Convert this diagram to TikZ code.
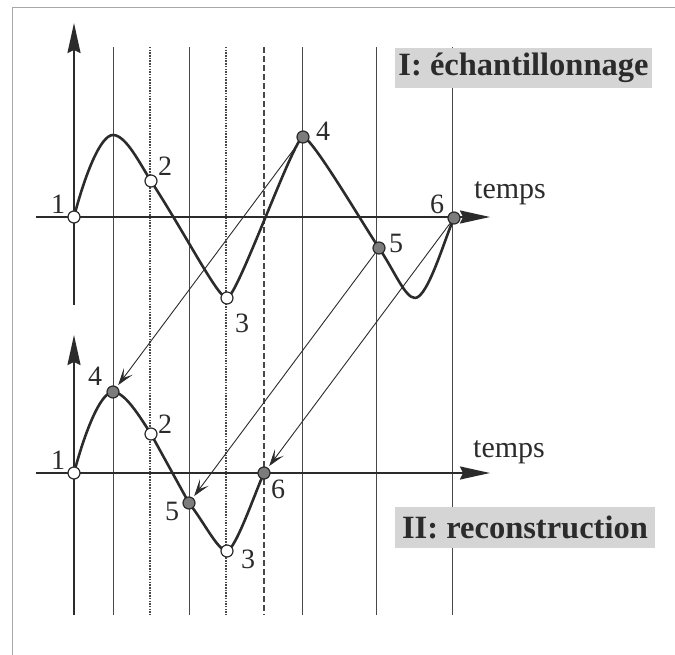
\documentclass[tikz,border=0pt]{standalone}
\usepackage{fontspec}
\setmainfont{Liberation Serif}
\usetikzlibrary{arrows.meta}
\definecolor{echink}{HTML}{2B2B2B}
\definecolor{echgrid}{HTML}{484848}
\definecolor{echframe}{HTML}{A8A8A8}
\definecolor{echbox}{HTML}{D5D5D5}
\definecolor{echheld}{HTML}{7C7C7C}

\begin{document}
\begin{tikzpicture}[x=1pt,y=-1pt,
  sampline/.style={echgrid,line width=1pt},
  axisline/.style={echink,line width=1.9pt,-{Stealth[length=30pt,width=13pt,inset=3pt]}},
  signal/.style={echink,line width=2.6pt,line join=round,line cap=round},
  carry/.style={echink,line width=0.9pt,shorten >=2pt,-{Stealth[length=17pt,width=11pt,inset=8pt]}},
  blank/.style={circle,draw=echink,line width=1.2pt,fill=white,inner sep=0pt,minimum size=12pt},
  held/.style={circle,draw=echink,line width=1.2pt,fill=echheld,inner sep=0pt,minimum size=12pt},
  num/.style={font=\fontsize{28}{28}\selectfont,inner sep=0pt,text=echink},
  banner/.style={fill=echbox,inner sep=0pt,font=\fontsize{32.5}{32.5}\selectfont\bfseries,text=echink}]
  \useasboundingbox (0,0) rectangle (675,655);
  \draw[echframe,line width=1pt] (12,660) -- (12,8) -- (680,8);

  % sampling instants
  \draw[sampline] (113,47) -- (113,615);
  \draw[sampline,line width=1.3pt,dash pattern=on 1.5pt off 1.2pt] (150,47) -- (150,615);
  \draw[sampline] (189,47) -- (189,615);
  \draw[sampline,line width=1.3pt,dash pattern=on 1.5pt off 1.2pt] (226,47) -- (226,615);
  \draw[sampline,line width=1.5pt,dash pattern=on 6pt off 3pt] (264,47) -- (264,615);
  \draw[sampline] (302,47) -- (302,615);
  \draw[sampline] (376,47) -- (376,615);
  \draw[sampline] (452,47) -- (452,615);

  % axes
  \draw[axisline] (74,305) -- (74,23);
  \draw[axisline] (36,217) -- (490,217);
  \draw[axisline] (74,615) -- (74,335);
  \draw[axisline] (36,473) -- (490,473);

  % I: signal
  \coordinate (a1) at (74,217);
  \coordinate (a2) at (151,181);
  \coordinate (a3) at (227,298);
  \coordinate (a4) at (303,137);
  \coordinate (a5) at (379,248);
  \coordinate (a6) at (454,218);
  \coordinate (apeak) at (113,135);
  \coordinate (atrough) at (415,298);
  \draw[signal] (a1) .. controls (84,178) and (100,135) .. (apeak)
    .. controls (126,135) and (140,164) .. (a2)
    .. controls (189,240) and (218,298) .. (a3)
    .. controls (237,298) and (294,137) .. (a4)
    .. controls (312,137) and (364,226) .. (a5)
    .. controls (394,270) and (405,298) .. (atrough)
    .. controls (428,298) and (446,235) .. (a6);

  % II: signal
  \coordinate (b1) at (74,473);
  \coordinate (b4) at (113,392);
  \coordinate (b2) at (151,434);
  \coordinate (b5) at (189,503);
  \coordinate (b3) at (227,551);
  \coordinate (b6) at (264,473);
  \draw[signal] (b1) .. controls (84,435) and (100,392) .. (b4)
    .. controls (125,392) and (140,417) .. (b2)
    -- (b5)
    .. controls (204,522) and (218,551) .. (b3)
    .. controls (236,549) and (256,490) .. (b6);

  \node[blank] (u1) at (a1) {};
  \node[blank] (u2) at (a2) {};
  \node[blank] (u3) at (a3) {};
  \node[held] (u4) at (a4) {};
  \node[held] (u5) at (a5) {};
  \node[held] (u6) at (a6) {};
  \node[blank] (l1) at (b1) {};
  \node[held] (l4) at (b4) {};
  \node[blank] (l2) at (b2) {};
  \node[held] (l5) at (b5) {};
  \node[blank] (l3) at (b3) {};
  \node[held] (l6) at (b6) {};

  \draw[carry] (u4) -- (l4);
  \draw[carry] (u5) -- (l5);
  \draw[carry] (u6) -- (l6);

  \node[num] (u1txt) at (58,204) {1};
  \node[num] (u2txt) at (165,166) {2};
  \node[num] (u3txt) at (242,323) {3};
  \node[num] (u4txt) at (323,131) {4};
  \node[num] (u5txt) at (396,243) {5};
  \node[num] (u6txt) at (437,204) {6};
  \node[num] (l1txt) at (58,460) {1};
  \node[num] (l4txt) at (95,376) {4};
  \node[num] (l2txt) at (165,424) {2};
  \node[num] (l5txt) at (172,511) {5};
  \node[num] (l3txt) at (248,559) {3};
  \node[num] (l6txt) at (278,489) {6};
  \node[num,font=\fontsize{30}{30}\selectfont] (utime) at (510,193) {temps};
  \node[num,font=\fontsize{30}{30}\selectfont] (ltime) at (509,452) {temps};

  \node[banner,minimum width=257pt,minimum height=40pt] (sampling) at (523.5,68) {I: échantillonnage};
  \node[banner,minimum width=260pt,minimum height=41pt] (rebuild) at (525,527.5) {II: reconstruction};
\end{tikzpicture}
\end{document}
